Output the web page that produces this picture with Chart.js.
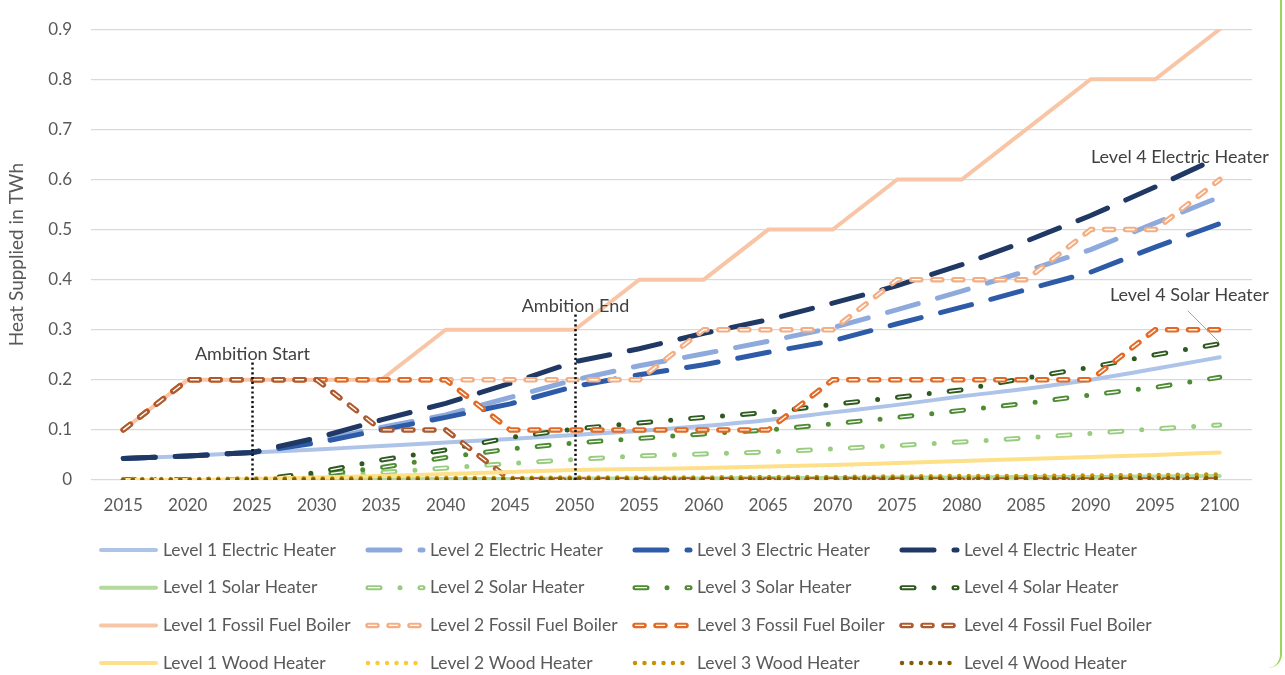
<!DOCTYPE html>
<html>
<head>
<meta charset="utf-8">
<script src="https://cdn.jsdelivr.net/npm/chart.js@4.4.1/dist/chart.umd.min.js"></script>
<style>
  html, body { margin: 0; padding: 0; background: #fff; }
  #wrap { position: relative; width: 1285px; height: 675px; overflow: hidden; }
  #frame { position: absolute; left: 1230px; top: -20px; width: 50px; height: 688px;
           border-right: 2px solid #9bd45a; border-bottom-right-radius: 14px; }
</style>
</head>
<body>
<div id="wrap">
  <canvas id="heatChart" width="1285" height="675"></canvas>
  <div id="frame"></div>
</div>
<script>
const years = ["2015", "2020", "2025", "2030", "2035", "2040", "2045", "2050", "2055",
  "2060", "2065", "2070", "2075", "2080", "2085", "2090", "2095", "2100"];
const yTickLabels = ["0", "0.1", "0.2", "0.3", "0.4", "0.5", "0.6", "0.7", "0.8", "0.9"];

const electric1 = [0.043, 0.048, 0.055, 0.061, 0.068, 0.075, 0.082, 0.09, 0.098, 0.108, 0.12, 0.135, 0.15, 0.167, 0.182, 0.2, 0.222, 0.245];
const electric2 = [0.043, 0.048, 0.055, 0.078, 0.105, 0.13, 0.165, 0.2, 0.228, 0.252, 0.277, 0.304, 0.34, 0.377, 0.417, 0.46, 0.513, 0.565];
const electric3 = [0.043, 0.048, 0.055, 0.074, 0.1, 0.125, 0.152, 0.187, 0.21, 0.23, 0.255, 0.278, 0.312, 0.345, 0.38, 0.415, 0.465, 0.512];
const electric4 = [0.043, 0.048, 0.055, 0.084, 0.12, 0.153, 0.193, 0.236, 0.262, 0.293, 0.32, 0.353, 0.388, 0.43, 0.477, 0.528, 0.585, 0.645];

const solar1 = [0, 0, 0, 0.001, 0.001, 0.002, 0.002, 0.003, 0.003, 0.003, 0.004, 0.004, 0.005, 0.005, 0.006, 0.006, 0.007, 0.008];
const solar2 = [0, 0, 0, 0.007, 0.015, 0.024, 0.033, 0.041, 0.048, 0.052, 0.056, 0.062, 0.069, 0.076, 0.084, 0.093, 0.102, 0.11];
const solar3 = [0, 0, 0, 0.01, 0.025, 0.045, 0.062, 0.074, 0.083, 0.092, 0.1, 0.112, 0.125, 0.139, 0.153, 0.17, 0.185, 0.205];
const solar4 = [0, 0, 0, 0.015, 0.04, 0.06, 0.085, 0.102, 0.114, 0.125, 0.135, 0.151, 0.165, 0.18, 0.204, 0.225, 0.25, 0.272];

const fossil1 = [0.1, 0.2, 0.2, 0.2, 0.2, 0.3, 0.3, 0.3, 0.4, 0.4, 0.5, 0.5, 0.6, 0.6, 0.7, 0.8, 0.8, 0.9];
const fossil2 = [0.1, 0.2, 0.2, 0.2, 0.2, 0.2, 0.2, 0.2, 0.2, 0.3, 0.3, 0.3, 0.4, 0.4, 0.4, 0.5, 0.5, 0.6];
const fossil3 = [0.1, 0.2, 0.2, 0.2, 0.2, 0.2, 0.1, 0.1, 0.1, 0.1, 0.1, 0.2, 0.2, 0.2, 0.2, 0.2, 0.3, 0.3];
const fossil4 = [0.1, 0.2, 0.2, 0.2, 0.1, 0.1, 0, 0, 0, 0, 0, 0, 0, 0, 0, 0, 0, 0];

const wood1 = [0, 0, 0.002, 0.005, 0.008, 0.012, 0.016, 0.02, 0.022, 0.024, 0.027, 0.03, 0.034, 0.038, 0.042, 0.046, 0.05, 0.055];
const wood2 = [0, 0, 0.001, 0.001, 0.002, 0.002, 0.002, 0.003, 0.003, 0.003, 0.004, 0.004, 0.005, 0.005, 0.006, 0.006, 0.007, 0.008];
const wood3 = [0.002, 0.002, 0.003, 0.003, 0.004, 0.004, 0.004, 0.005, 0.005, 0.005, 0.006, 0.006, 0.007, 0.008, 0.008, 0.009, 0.01, 0.011];
const wood4 = [0, 0, 0.001, 0.001, 0.001, 0.001, 0.002, 0.002, 0.002, 0.002, 0.002, 0.003, 0.003, 0.003, 0.003, 0.003, 0.004, 0.004];

// vertical markers
const markerYears = ["2025", "2050"];
const markerTops = [0.24, 0.335];
const markerTexts = ["Ambition Start", "Ambition End"];

const TEXT = "#595959";
const FONT = "Lato, 'Open Sans', sans-serif";

const solid = { borderDash: [], borderCapStyle: "round" };
const longDash = { borderDash: [32, 20], borderCapStyle: "round", borderWidth: 5 };
const dashDot = { borderDash: [12, 20, 0, 20], borderCapStyle: "round", borderWidth: 5, core: 1.3 };
const shortDash = { borderDash: [9, 12], borderCapStyle: "round", borderWidth: 5.5, core: 1.4 };
const dots = { borderDash: [0, 9.5], borderCapStyle: "round", borderWidth: 4.5 };

function series(label, data, color, style, extra) {
  return Object.assign({
    label, data,
    borderColor: color,
    backgroundColor: color,
    borderWidth: 4,
    pointRadius: 0,
    tension: 0,
    fill: false
  }, style, extra || {});
}

const datasets = [
  series("Level 1 Electric Heater", electric1, "#adc3e8", solid, { cubicInterpolationMode: "monotone" }),
  series("Level 2 Electric Heater", electric2, "#8eaadc", longDash),
  series("Level 3 Electric Heater", electric3, "#2e5ba8", longDash),
  series("Level 4 Electric Heater", electric4, "#1f3864", longDash),
  series("Level 1 Solar Heater", solar1, "#b3d99c", solid),
  series("Level 2 Solar Heater", solar2, "#98cc7e", dashDot),
  series("Level 3 Solar Heater", solar3, "#4e8c33", dashDot),
  series("Level 4 Solar Heater", solar4, "#2f5a1f", dashDot),
  series("Level 1 Fossil Fuel Boiler", fossil1, "#f8c6a6", solid),
  series("Level 2 Fossil Fuel Boiler", fossil2, "#f4ae84", shortDash),
  series("Level 3 Fossil Fuel Boiler", fossil3, "#e26a25", shortDash),
  series("Level 4 Fossil Fuel Boiler", fossil4, "#ad5a2e", shortDash),
  series("Level 1 Wood Heater", wood1, "#ffe08a", solid, { cubicInterpolationMode: "monotone" }),
  series("Level 2 Wood Heater", wood2, "#ffc935", dots),
  series("Level 3 Wood Heater", wood3, "#c49300", dots),
  series("Level 4 Wood Heater", wood4, "#7f5e00", dots)
];
// later series on top, like the original
datasets.forEach((ds, i) => { ds.order = -i; });

function strokePath(c, pts) {
  c.beginPath();
  pts.forEach((p, i) => (i ? c.lineTo(p.x, p.y) : c.moveTo(p.x, p.y)));
  c.stroke();
}

// white inner line for the "double" dashed styles
const whiteCore = {
  id: "whiteCore",
  afterDatasetDraw(chart, args) {
    const ds = chart.data.datasets[args.index];
    if (!ds.core) return;
    const c = chart.ctx;
    c.save();
    c.strokeStyle = "#ffffff";
    c.lineWidth = ds.core;
    c.lineCap = "butt";
    c.lineJoin = "round";
    c.setLineDash(ds.borderDash);
    strokePath(c, args.meta.data);
    c.restore();
  }
};

const markers = {
  id: "markers",
  afterDatasetsDraw(chart) {
    const c = chart.ctx;
    const x = chart.scales.x, y = chart.scales.y;
    c.save();
    markerYears.forEach((yr, i) => {
      const px = Math.round(x.getPixelForValue(yr)) + 0.5;
      const top = y.getPixelForValue(markerTops[i]);
      c.strokeStyle = "#111";
      c.lineWidth = 2.5;
      c.setLineDash([2.2, 2.6]);
      c.beginPath();
      c.moveTo(px, y.getPixelForValue(0));
      c.lineTo(px, top);
      c.stroke();
      c.setLineDash([]);
      c.fillStyle = "#404040";
      c.font = "18px " + FONT;
      c.textAlign = "center";
      c.textBaseline = "middle";
      c.fillText(markerTexts[i], px, top - 6);
    });
    c.restore();
  }
};

const endLabels = {
  id: "endLabels",
  afterDatasetsDraw(chart) {
    const c = chart.ctx;
    const last = years.length - 1;
    const elec = chart.getDatasetMeta(3).data[last];
    const sol = chart.getDatasetMeta(7).data[last];
    c.save();
    c.fillStyle = "#404040";
    c.font = "18px " + FONT;
    c.textAlign = "right";
    c.textBaseline = "middle";
    c.fillText(chart.data.datasets[3].label, elec.x + 49, elec.y);
    c.fillText(chart.data.datasets[7].label, sol.x + 49, sol.y - 49);
    c.strokeStyle = "#a6a6a6";
    c.lineWidth = 1;
    c.beginPath();
    c.moveTo(sol.x - 32, sol.y - 33);
    c.lineTo(sol.x - 1, sol.y - 2);
    c.stroke();
    c.restore();
  }
};

const gridLegend = {
  id: "gridLegend",
  afterDraw(chart) {
    const c = chart.ctx;
    c.save();
    chart.data.datasets.forEach((ds, i) => {
      const x0 = 99 + (i % 4) * 267;
      const y0 = 550 + Math.floor(i / 4) * 37.7;
      const pts = [{ x: x0 + 2, y: y0 }, { x: x0 + 57, y: y0 }];
      c.strokeStyle = ds.borderColor;
      c.lineWidth = ds.borderWidth;
      c.lineCap = ds.borderCapStyle;
      c.setLineDash(ds.borderDash);
      strokePath(c, pts);
      if (ds.core) {
        c.strokeStyle = "#fff";
        c.lineWidth = ds.core;
        c.lineCap = "butt";
        strokePath(c, pts);
      }
      c.setLineDash([]);
      c.fillStyle = TEXT;
      c.font = "17.5px " + FONT;
      c.textAlign = "left";
      c.textBaseline = "middle";
      c.fillText(ds.label, x0 + 64, y0);
    });
    c.restore();
  }
};

new Chart(document.getElementById("heatChart"), {
  type: "line",
  data: { labels: years, datasets },
  plugins: [whiteCore, markers, endLabels, gridLegend],
  options: {
    responsive: false,
    animation: false,
    layout: { padding: { left: 0, right: 33, top: 21, bottom: 155 } },
    plugins: { legend: { display: false }, tooltip: { enabled: false } },
    scales: {
      x: {
        offset: true,
        grid: { display: false, drawTicks: false },
        border: { display: false },
        ticks: { color: TEXT, font: { family: FONT, size: 17 }, padding: 15, maxRotation: 0, autoSkip: false },
        afterFit(s) { s.height = 40; }
      },
      y: {
        min: 0,
        max: 0.9,
        grid: { color: "#d9d9d9", lineWidth: 1.2, drawTicks: false },
        border: { display: false },
        ticks: {
          stepSize: 0.1,
          color: TEXT,
          font: { family: FONT, size: 17 },
          padding: 19,
          callback: (v, i) => yTickLabels[i]
        },
        title: {
          display: true,
          text: "Heat Supplied in TWh",
          color: TEXT,
          font: { family: FONT, size: 19 },
          padding: { top: 5, bottom: 0 }
        },
        afterFit(s) { s.width = 91; }
      }
    }
  }
});
</script>
</body>
</html>
